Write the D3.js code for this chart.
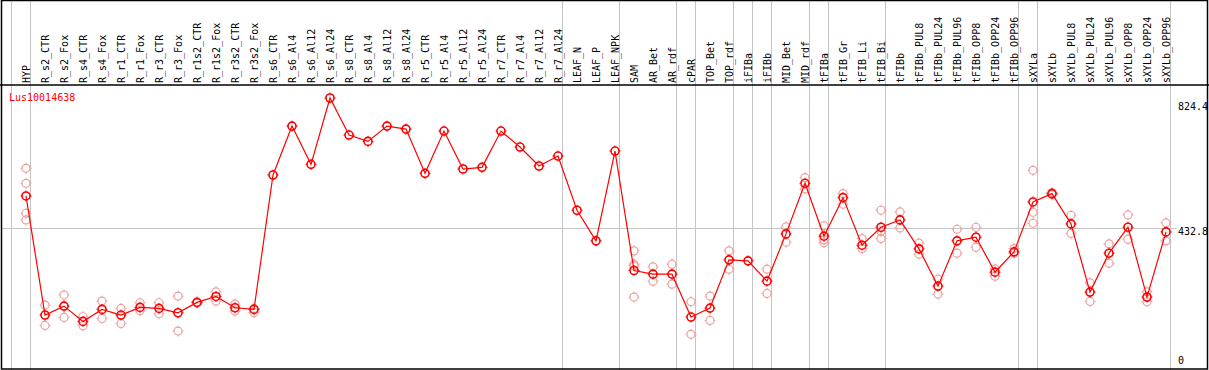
<!DOCTYPE html>
<html>
<head>
<meta charset="utf-8">
<script src="https://cdn.jsdelivr.net/npm/d3@7"></script>
<style>
  html, body { margin: 0; padding: 0; background: #fff; }
  svg { display: block; }
  text { font-family: "DejaVu Sans Mono", "Liberation Mono", monospace; }
</style>
</head>
<body>
<svg id="chart" width="1209" height="370"></svg>
<script>
const geneName = "Lus10014638";

const categories = [
  "HYP","R_s2_CTR","R_s2_Fox","R_s4_CTR","R_s4_Fox","R_r1_CTR","R_r1_Fox","R_r3_CTR","R_r3_Fox",
  "R_r1s2_CTR","R_r1s2_Fox","R_r3s2_CTR","R_r3s2_Fox","R_s6_CTR","R_s6_Al4","R_s6_Al12","R_s6_Al24",
  "R_s8_CTR","R_s8_Al4","R_s8_Al12","R_s8_Al24","R_r5_CTR","R_r5_Al4","R_r5_Al12","R_r5_Al24",
  "R_r7_CTR","R_r7_Al4","R_r7_Al12","R_r7_Al24","LEAF_N","LEAF_P","LEAF_NPK","SAM","AR_Bet","AR_rdf",
  "cPAR","TOP_Bet","TOP_rdf","iFIBa","iFIBb","MID_Bet","MID_rdf","tFIBa","tFIB_Gr","tFIB_Li","tFIB_Bi",
  "tFIBb","tFIBb_PUL8","tFIBb_PUL24","tFIBb_PUL96","tFIBb_OPP8","tFIBb_OPP24","tFIBb_OPP96",
  "sXYLa","sXYLb","sXYLb_PUL8","sXYLb_PUL24","sXYLb_PUL96","sXYLb_OPP8","sXYLb_OPP24","sXYLb_OPP96"
];

const means = [
  530,172,199,153,189,172,195,192,179,
  210,228,194,189,593,740,625,824.4,
  713,694,740,731,598,725,611,616,
  725,677,620,650,487,395,665,306,295,295,
  166,193,338,335,274,416,568,409,525,382,436,
  458,371,259,395,406,301,362,
  512,537,446,241,358,436,226,422
];

const replicates = [
  [613,568,478,458],[202,141],[232,165],[167,140],[214,162],[192,147],[209,185],[209,176],[229,124],
  [212,208],[242,214],[205,184],[192,180],[],[],[],[],
  [],[],[],[],[],[],[],[],
  [],[],[],[],[],[],[],[365,325,320,226],[317,274],[325,265],
  [212,114],[229,156],[365,310],[],[310,237],[437,391],[585,551],[440,398,390],[537,505],[402,372],[487,423,402],
  [482,434],[388,355],[280,235],[430,358],[436,376],[311,289],[372,358],
  [607,481,448],[540,534],[472,418],[269,213],[386,328],[473,400],[242,212],[449,395]
];

// group separators: drawn right after these categories ("" = before the first)
const separatorsAfter = ["", "HYP","R_r7_Al24","LEAF_NPK","AR_rdf","cPAR","TOP_rdf","iFIBa","iFIBb",
  "MID_rdf","tFIBa","tFIB_Bi","tFIBb_OPP96","sXYLa","sXYLb_OPP96"];

const yMax = 824.4;
const gridValue = 432.8;
const yTickValues = [824.4, 432.8, 0];
const yTickLabels = ["824.4", "432.8", "0"];

const W = 1209, H = 370;
const svg = d3.select("#chart");

const x = d3.scalePoint().domain(categories).range([26, 1166]);
const step = x.step();
const y = d3.scaleLinear().domain([0, yMax]).range([372.3, 98]);

const gray = "#c4c4c4";

// vertical separators
svg.append("g").selectAll("line").data(separatorsAfter).join("line")
  .attr("x1", d => (d === "" ? x(categories[0]) - step : x(d)) + 4.5)
  .attr("x2", d => (d === "" ? x(categories[0]) - step : x(d)) + 4.5)
  .attr("y1", 0).attr("y2", H)
  .attr("stroke", gray).attr("stroke-width", 1);

// horizontal grid line
svg.append("line")
  .attr("x1", 1).attr("x2", 1176)
  .attr("y1", Math.round(y(gridValue)) + 0.5).attr("y2", Math.round(y(gridValue)) + 0.5)
  .attr("stroke", gray).attr("stroke-width", 1);

// header line
svg.append("line").attr("x1", 0).attr("x2", W).attr("y1", 85).attr("y2", 85)
  .attr("stroke", "#000").attr("stroke-width", 1.5);

// outer frame
svg.append("rect").attr("x", 1.5).attr("y", 0.5).attr("width", 1206).attr("height", 368.5)
  .attr("fill", "none").attr("stroke", "#000").attr("stroke-width", 1.5);

// column labels
svg.append("g").selectAll("text").data(categories).join("text")
  .attr("transform", d => `translate(${x(d) + 4},83) rotate(-90)`)
  .attr("font-size", "10px").attr("fill", "#000")
  .text(d => d);

// gene name
svg.append("text").attr("x", 9).attr("y", 101).attr("font-size", "10px")
  .attr("fill", "#ff0000").text(geneName);

// y tick labels on the right
svg.append("g").selectAll("text").data(yTickValues).join("text")
  .attr("x", 1178)
  .attr("y", d => Math.min(Math.max(y(d), 103), 357))
  .attr("dominant-baseline", "hanging")
  .attr("font-size", "10px").attr("fill", "#000")
  .text((d, i) => yTickLabels[i]);

// marker helper: circle with small ticks
function marker(g, cx, cy, color, sw) {
  g.append("circle").attr("cx", cx).attr("cy", cy).attr("r", 4)
    .attr("fill", "none").attr("stroke", color).attr("stroke-width", sw);
  const t = [[0,-4,0,-5.5],[0,4,0,5.5],[-4,0,-5.5,0],[4,0,5.5,0]];
  t.forEach(s => g.append("line")
    .attr("x1", cx + s[0]).attr("y1", cy + s[1]).attr("x2", cx + s[2]).attr("y2", cy + s[3])
    .attr("stroke", color).attr("stroke-width", 1));
}

// replicates
const repG = svg.append("g");
categories.forEach((c, i) => {
  replicates[i].forEach(v => marker(repG, x(c), y(v), "#eea0a0", 1.2));
});

// mean line
const line = d3.line().x((d, i) => x(categories[i])).y(d => y(d));
svg.append("path").datum(means).attr("d", line)
  .attr("fill", "none").attr("stroke", "#ff0000").attr("stroke-width", 1.2);

// mean markers
const meanG = svg.append("g");
categories.forEach((c, i) => marker(meanG, x(c), y(means[i]), "#ff0000", 1.6));
</script>
</body>
</html>
